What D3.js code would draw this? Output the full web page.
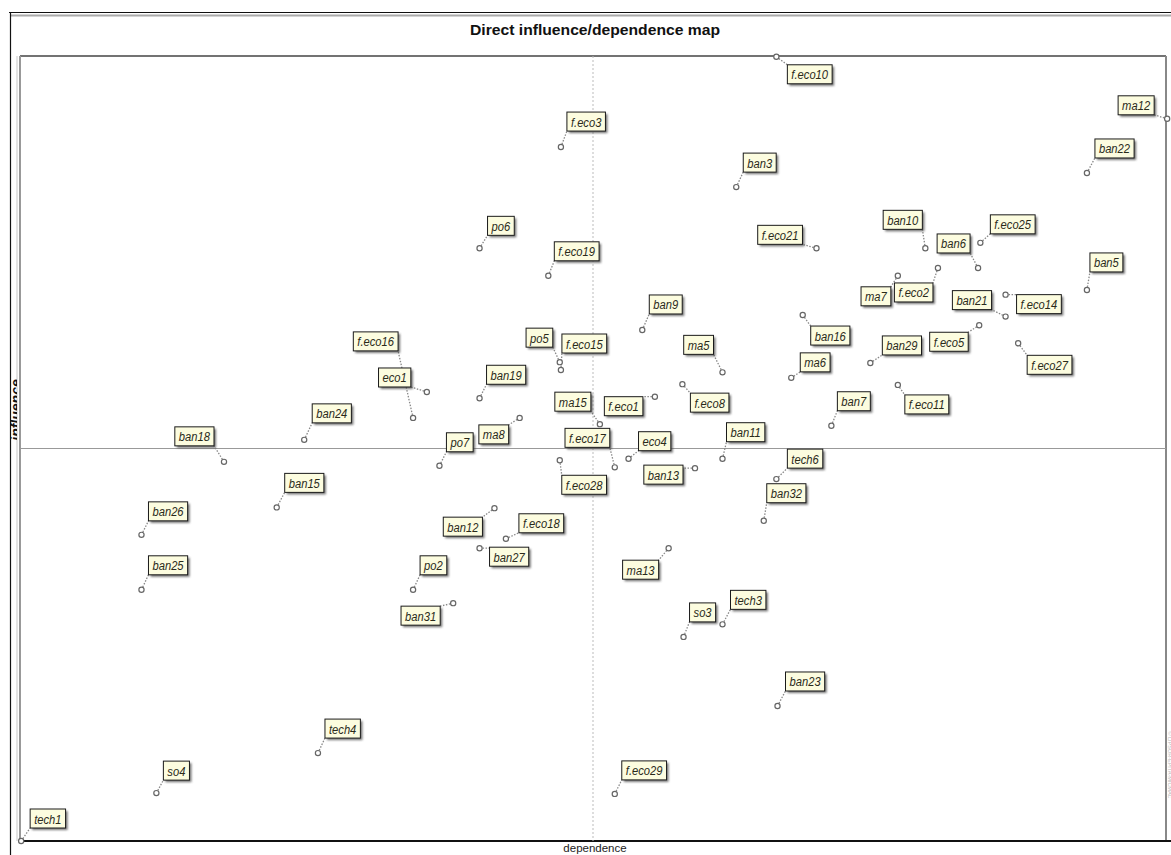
<!DOCTYPE html>
<html>
<head>
<meta charset="utf-8">
<script src="https://cdn.jsdelivr.net/npm/d3@7/dist/d3.min.js"></script>
<style>
  html, body { margin: 0; padding: 0; background: #fff; overflow: hidden; }
  svg { display: block; }
</style>
</head>
<body>
<svg id="chart" width="1171" height="855"></svg>
<script>
// ---------------- DATA ----------------
const chartTitle = "Direct influence/dependence map";
const xAxisLabel = "dependence";
const yAxisLabel = "influence";
const watermark = "© LIPSOR-EPITA-MICMAC";

const variables = [
  "f.eco10","ma12","f.eco3","ban3","ban22","po6","f.eco19","f.eco21","ban10","f.eco25",
  "ban6","f.eco2","ma7","ban5","ban21","f.eco14","f.eco5","ban29","f.eco27","ban9",
  "ma5","ban16","ma6","f.eco8","f.eco1","ban7","f.eco11","ban11","tech6","ban32",
  "eco4","ban13","f.eco17","ma15","f.eco28","po5","f.eco15","f.eco16","eco1","ban19",
  "ban24","ban18","po7","ma8","ban15","ban26","ban25","ban12","f.eco18","ban27",
  "po2","ban31","tech4","so4","tech1","ma13","so3","tech3","ban23","f.eco29"
];
const dependence = [
  66.0,100.1,47.2,62.5,93.1,40.1,46.1,69.5,79.0,83.8,
  83.6,80.1,76.6,93.1,86.0,86.0,83.7,74.2,87.1,54.3,
  61.3,68.3,67.3,57.8,55.4,70.8,76.6,61.3,66.0,64.9,
  53.1,58.9,51.9,50.6,47.1,47.1,47.2,34.3,35.5,40.1,
  24.8,17.8,36.6,43.6,22.4,10.6,10.6,41.4,42.4,40.1,
  34.3,37.8,26.0,11.9,0.1,56.6,57.9,61.3,66.1,51.9
];
const influence = [
  99.9,92.0,88.4,83.3,85.1,75.5,72.0,75.5,75.5,76.2,
  73.0,73.0,72.0,70.2,66.8,69.6,65.7,60.9,63.4,65.1,
  59.7,67.0,59.0,58.2,56.6,52.9,58.1,48.7,46.1,40.8,
  48.7,47.5,47.6,53.1,48.5,61.0,60.0,53.9,57.2,56.4,
  51.1,48.3,47.8,53.9,42.5,39.0,32.0,42.4,38.5,37.3,
  32.0,30.3,11.2,6.1,0.0,37.3,26.0,27.6,17.2,6.0
];
const meanDependence = 50.0;
const meanInfluence = 50.0;
const domainDependence = [0, 100];
const domainInfluence = [0, 100];

// label placement (pixel offset of the label box from its point; 'l' = box left edge, 'r' = box right edge)
const labelOffsets = [
  [11,8,'l'],[-13,-23,'r'],[6,-35,'l'],[7,-34,'l'],[8,-34,'l'],[8,-32,'l'],[6,-34,'l'],[-14,-23,'r'],[-3,-38,'r'],[10,-28,'l'],
  [-8,-34,'r'],[-5,15,'r'],[-7,11,'r'],[3,-37,'l'],[-14,-26,'r'],[11,0,'l'],[-11,7,'r'],[12,-27,'l'],[9,12,'l'],[7,-35,'l'],
  [-9,-37,'r'],[8,11,'l'],[9,-25,'l'],[8,9,'l'],[-12,0,'r'],[6,-34,'l'],[7,10,'l'],[4,-36,'l'],[11,-30,'l'],[3,-37,'l'],
  [10,-27,'l'],[-12,-3,'r'],[-5,-39,'r'],[-9,-32,'r'],[2,15,'l'],[-7,-34,'r'],[1,-36,'l'],[-15,-86,'r'],[-16,-24,'r'],[7,-33,'l'],
  [8,-36,'l'],[-10,-35,'r'],[7,-33,'l'],[-11,7,'r'],[8,-34,'l'],[7,-33,'l'],[7,-34,'l'],[-12,9,'r'],[13,-25,'l'],[10,-1,'l'],
  [7,-34,'l'],[-13,3,'r'],[7,-34,'l'],[7,-32,'l'],[9,-32,'l'],[-10,12,'r'],[6,-34,'l'],[8,-34,'l'],[8,-34,'l'],[7,-33,'l']
];

// ---------------- LAYOUT ----------------
const W = 1171, H = 855;
const plot = { left: 20, right: 1166, top: 56, bottom: 841 };

const svg = d3.select("#chart");
const x = d3.scaleLinear().domain(domainDependence).range([plot.left, plot.right]);
const y = d3.scaleLinear().domain(domainInfluence).range([plot.bottom, plot.top]);

const defs = svg.append("defs");
const f = defs.append("filter").attr("id", "shadow").attr("x", "-20%").attr("y", "-20%").attr("width", "150%").attr("height", "160%");
f.append("feGaussianBlur").attr("stdDeviation", 0.8);
defs.append("clipPath").attr("id", "ylabClip").append("rect")
  .attr("x", 11).attr("y", 300).attr("width", 6).attr("height", 200);

// outer frame
svg.append("line").attr("x1", 9).attr("x2", W).attr("y1", 12.5).attr("y2", 12.5)
  .attr("stroke", "#111").attr("stroke-width", 1.2);
svg.append("line").attr("x1", 10).attr("x2", W).attr("y1", 15.5).attr("y2", 15.5)
  .attr("stroke", "#aaa").attr("stroke-width", 2);
svg.append("line").attr("x1", 10.5).attr("x2", 10.5).attr("y1", 12).attr("y2", H)
  .attr("stroke", "#111").attr("stroke-width", 1.2);

// title
svg.append("text").attr("x", 595).attr("y", 35)
  .attr("text-anchor", "middle")
  .attr("font-family", "'Liberation Sans', Arial, sans-serif")
  .attr("font-weight", "bold").attr("font-size", 15.5).attr("fill", "#111")
  .attr("textLength", 250).attr("lengthAdjust", "spacingAndGlyphs")
  .text(chartTitle);

// plot area
svg.append("rect").attr("x", plot.left).attr("y", plot.top)
  .attr("width", plot.right - plot.left).attr("height", plot.bottom - plot.top)
  .attr("fill", "#fff").attr("stroke", "none");
svg.append("line").attr("x1", plot.left).attr("x2", plot.right).attr("y1", plot.top).attr("y2", plot.top)
  .attr("stroke", "#444").attr("stroke-width", 1.5);
svg.append("line").attr("x1", plot.left).attr("x2", plot.left).attr("y1", plot.top).attr("y2", plot.bottom)
  .attr("stroke", "#999").attr("stroke-width", 2);
svg.append("line").attr("x1", plot.left - 3).attr("x2", plot.left - 3).attr("y1", plot.top).attr("y2", plot.bottom)
  .attr("stroke", "#e4e4e4").attr("stroke-width", 2);
svg.append("line").attr("x1", plot.right).attr("x2", plot.right).attr("y1", plot.top).attr("y2", plot.bottom)
  .attr("stroke", "#888").attr("stroke-width", 2);
svg.append("line").attr("x1", plot.left).attr("x2", W).attr("y1", plot.bottom).attr("y2", plot.bottom)
  .attr("stroke", "#111").attr("stroke-width", 2);

// mean lines
svg.append("line").attr("x1", x(meanDependence)).attr("x2", x(meanDependence))
  .attr("y1", plot.top).attr("y2", plot.bottom)
  .attr("stroke", "#bbb").attr("stroke-width", 1).attr("stroke-dasharray", "2,2");
svg.append("line").attr("x1", plot.left).attr("x2", plot.right)
  .attr("y1", y(meanInfluence)).attr("y2", y(meanInfluence))
  .attr("stroke", "#999").attr("stroke-width", 1);

// axis labels
svg.append("text").attr("x", x(meanDependence) + 2).attr("y", 852)
  .attr("text-anchor", "middle")
  .attr("font-family", "'Liberation Sans', Arial, sans-serif")
  .attr("font-size", 11.5).attr("fill", "#222")
  .text(xAxisLabel);
svg.append("g").attr("clip-path", "url(#ylabClip)")
  .append("text")
  .attr("transform", "translate(21,410) rotate(-90)")
  .attr("text-anchor", "middle")
  .attr("font-family", "'Liberation Sans', Arial, sans-serif")
  .attr("font-weight", "bold").attr("font-style", "italic")
  .attr("font-size", 14).attr("fill", "#111")
  .text(yAxisLabel);

// watermark at right edge
svg.append("text")
  .attr("transform", "translate(1167.5,765) rotate(90)")
  .attr("text-anchor", "middle")
  .attr("font-family", "'Liberation Sans', Arial, sans-serif")
  .attr("font-size", 5.5).attr("fill", "#bbb")
  .text(watermark);

// ---------------- POINTS & LABELS ----------------
const data = variables.map((name, i) => ({
  name, dep: dependence[i], inf: influence[i],
  off: labelOffsets[i]
}));

const gLeaders = svg.append("g");
const gPoints = svg.append("g");
const gLabels = svg.append("g");

const boxH = 19, padX = 4, narrow = 0.83;
const fontFam = "'Liberation Sans', Arial, sans-serif";

data.forEach(d => {
  const px = x(d.dep), py = y(d.inf);
  const g = gLabels.append("g");
  const t = g.append("text")
    .attr("font-family", fontFam)
    .attr("font-style", "italic")
    .attr("font-size", 13.5)
    .attr("fill", "#2a2a1a")
    .text(d.name);
  const tw = t.node().getComputedTextLength() * narrow;
  const bw = tw + 2 * padX;
  const bx = d.off[2] === 'l' ? px + d.off[0] : px + d.off[0] - bw;
  const by = py + d.off[1];
  g.insert("rect", "text")
    .attr("x", bx + 2).attr("y", by + 2).attr("width", bw).attr("height", boxH)
    .attr("fill", "#444").attr("opacity", 0.75).attr("filter", "url(#shadow)");
  g.insert("rect", "text")
    .attr("x", bx).attr("y", by).attr("width", bw).attr("height", boxH)
    .attr("fill", "#fcfcdf").attr("stroke", "#1a1a1a").attr("stroke-width", 1);
  t.attr("transform", `translate(${bx + padX},${by + 14.5}) scale(${narrow},1)`);

  // leader to nearest point of box
  const lx = Math.max(bx, Math.min(px, bx + bw));
  const ly = Math.max(by, Math.min(py, by + boxH));
  gLeaders.append("line")
    .attr("x1", px).attr("y1", py).attr("x2", lx).attr("y2", ly)
    .attr("stroke", "#888").attr("stroke-width", 1.3).attr("stroke-dasharray", "1.5,1.5");

  gPoints.append("circle")
    .attr("cx", px).attr("cy", py).attr("r", 2.6)
    .attr("fill", "#fff").attr("stroke", "#666").attr("stroke-width", 1.2);
});
</script>
</body>
</html>
